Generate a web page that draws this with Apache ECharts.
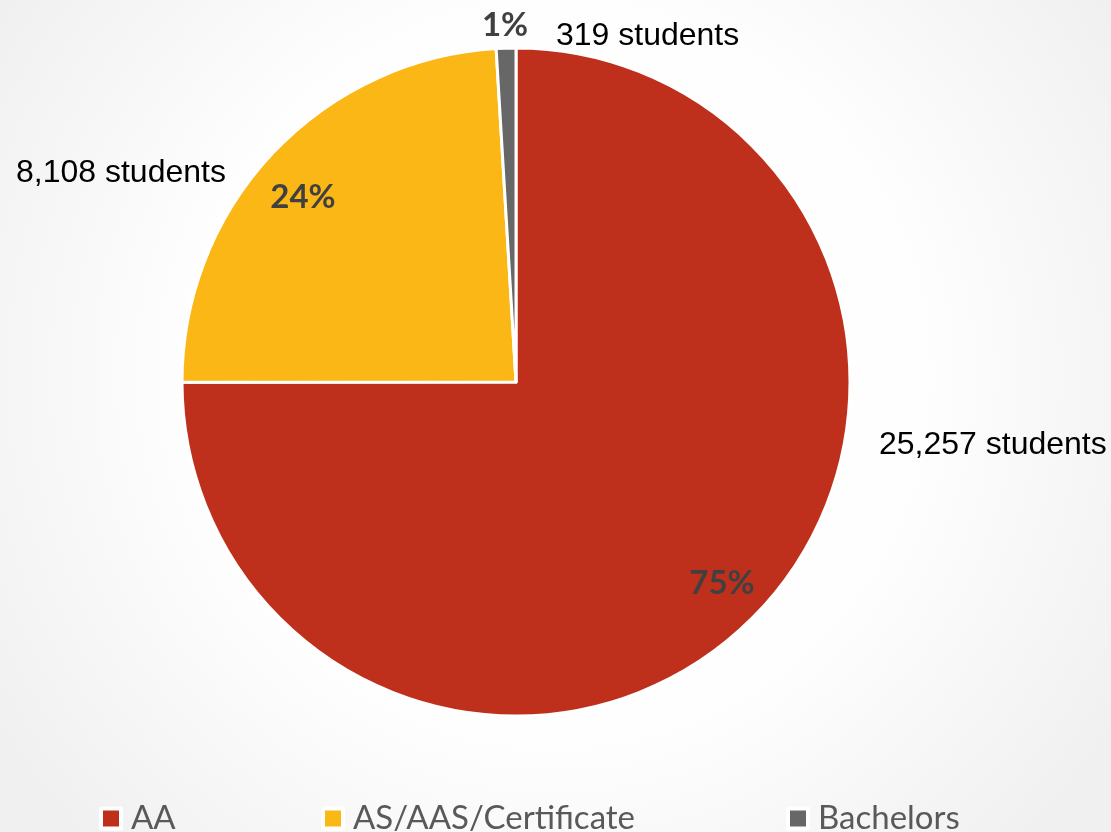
<!DOCTYPE html>
<html>
<head>
<meta charset="utf-8">
<script src="https://cdn.jsdelivr.net/npm/echarts@6/dist/echarts.min.js"></script>
<style>
html,body{margin:0;padding:0;background:#fff;}
#chart{width:1111px;height:832px;}
</style>
</head>
<body>
<div id="chart"></div>
<script>
const categories = ['AA', 'AS/AAS/Certificate', 'Bachelors'];
const students = [25257, 8108, 319];
const colors = ['#BF301C', '#FBB715', '#676767'];

// label anchor positions (px) for the moved data labels
const pctLabelPos = [[722, 583], [303, 197], [505, 25]];
const countLabelPos = [[879, 445], [16, 173], [556, 36]];
const legendLeft = [94, 316, 781];

const chart = echarts.init(document.getElementById('chart'));
const data = categories.map((c, i) => ({ name: c, value: students[i], itemStyle: { color: colors[i] } }));

const legends = categories.map((c, i) => ({
  data: [c],
  left: legendLeft[i],
  top: 797,
  orient: 'horizontal',
  icon: 'rect',
  itemWidth: 20,
  itemHeight: 20,
  itemStyle: { borderColor: '#ffffff', borderWidth: 4 },
  selectedMode: false,
  textStyle: { fontFamily: 'Lato', fontSize: 33, color: '#595959', padding: [0, 0, 0, 5] }
}));

chart.setOption({
  backgroundColor: {
    type: 'radial', x: 0.5, y: 0.45, r: 0.8,
    colorStops: [
      { offset: 0, color: '#ffffff' },
      { offset: 0.55, color: '#fefefe' },
      { offset: 1, color: '#f0f0f0' }
    ]
  },
  animation: false,
  legend: legends,
  series: [
    {
      type: 'pie',
      center: [516, 382],
      radius: 334,
      startAngle: 90,
      clockwise: true,
      avoidLabelOverlap: false,
      percentPrecision: 0,
      data: data,
      itemStyle: { borderColor: '#ffffff', borderWidth: 3 },
      label: {
        show: true,
        formatter: '{d}%',
        fontFamily: 'Lato',
        fontWeight: 'bold',
        fontSize: 33,
        color: '#404040'
      },
      labelLine: { show: false },
      labelLayout: function (p) {
        const pos = pctLabelPos[p.dataIndex];
        return { x: pos[0], y: pos[1], align: 'center', verticalAlign: 'middle' };
      }
    },
    {
      type: 'pie',
      center: [516, 382],
      radius: 334,
      startAngle: 90,
      clockwise: true,
      silent: true,
      avoidLabelOverlap: false,
      data: data.map(d => ({ name: d.name, value: d.value })),
      itemStyle: { color: 'rgba(0,0,0,0)', borderWidth: 0 },
      label: {
        show: true,
        formatter: p => p.value.toLocaleString('en-US') + ' students',
        fontFamily: 'Liberation Sans',
        fontSize: 32,
        color: '#000000'
      },
      labelLine: { show: false },
      labelLayout: function (p) {
        const pos = countLabelPos[p.dataIndex];
        return { x: pos[0], y: pos[1], align: 'left', verticalAlign: 'middle' };
      }
    }
  ]
});
</script>
</body>
</html>
